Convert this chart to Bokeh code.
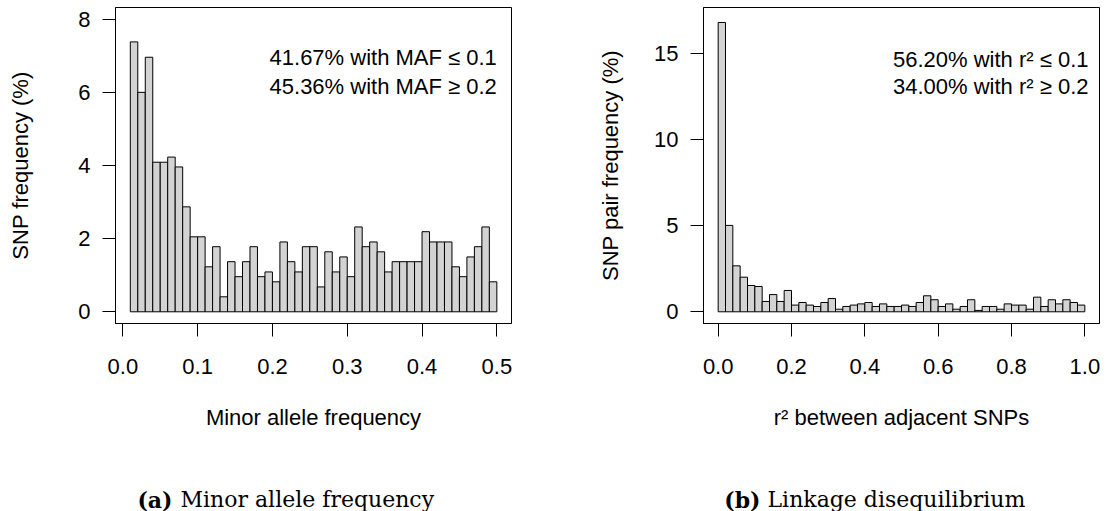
import numpy as np
from bokeh.plotting import figure
from bokeh.layouts import row, column
from bokeh.models import Range1d, FixedTicker, PrintfTickFormatter, Label, ColumnDataSource
from bokeh.embed import file_html
from bokeh.resources import INLINE

# ---- data ----
maf_bin_width = 0.01
maf_bin_start = np.round(np.arange(1, 50) * maf_bin_width, 2)   # 0.01 ... 0.49
maf_pct = [7.38, 6.00, 6.96, 4.09, 4.09, 4.23, 3.96, 2.87, 2.05, 2.05,
           1.23, 1.78, 0.41, 1.37, 0.96, 1.37, 1.78, 0.96, 1.09, 0.82,
           1.91, 1.37, 1.09, 1.78, 1.78, 0.68, 1.64, 1.09, 1.50, 0.96,
           2.32, 1.78, 1.91, 1.64, 1.09, 1.37, 1.37, 1.37, 1.37, 2.19,
           1.91, 1.91, 1.91, 1.23, 0.96, 1.50, 1.78, 2.32, 0.82]

ld_bin_width = 0.02
ld_bin_start = np.round(np.arange(0, 50) * ld_bin_width, 2)      # 0.00 ... 0.98
ld_pct = [16.81, 5.02, 2.67, 2.01, 1.53, 1.47, 0.60, 1.00, 0.60, 1.24,
          0.39, 0.54, 0.39, 0.31, 0.54, 0.77, 0.15, 0.31, 0.39, 0.46,
          0.54, 0.31, 0.46, 0.31, 0.31, 0.39, 0.31, 0.54, 0.93, 0.70,
          0.31, 0.46, 0.15, 0.31, 0.70, 0.08, 0.31, 0.31, 0.15, 0.46,
          0.39, 0.39, 0.15, 0.85, 0.31, 0.70, 0.46, 0.70, 0.54, 0.39]

maf_xticks = [0.0, 0.1, 0.2, 0.3, 0.4, 0.5]
maf_yticks = [0, 2, 4, 6, 8]
ld_xticks = [0.0, 0.2, 0.4, 0.6, 0.8, 1.0]
ld_yticks = [0, 5, 10, 15]

maf_notes = ["41.67% with MAF \u2264 0.1", "45.36% with MAF \u2265 0.2"]
ld_notes = ["56.20% with r\u00b2 \u2264 0.1", "34.00% with r\u00b2 \u2265 0.2"]
captions_tag = ["(a)", "(b)"]
captions_text = ["Minor allele frequency", "Linkage disequilibrium"]

SANS = "Liberation Sans"
SERIF = "DejaVu Serif"
FS = "22px"
CAP_FS = "22px"


def style(p, xticks, yticks):
    p.xgrid.visible = False
    p.ygrid.visible = False
    p.outline_line_color = "black"
    p.outline_line_width = 1
    p.outline_line_alpha = 1
    p.background_fill_color = "white"
    p.border_fill_color = "white"
    for ax in (p.xaxis[0], p.yaxis[0]):
        ax.major_tick_out = 13
        ax.major_tick_in = 0
        ax.minor_tick_line_color = None
        ax.major_tick_line_color = "black"
        ax.axis_line_color = "black"
        ax.major_label_text_font = SANS
        ax.major_label_text_font_size = FS
        ax.major_label_text_color = "black"
        ax.axis_label_text_font = SANS
        ax.axis_label_text_font_size = FS
        ax.axis_label_text_font_style = "normal"
        ax.axis_label_text_color = "black"
    p.xaxis[0].ticker = FixedTicker(ticks=xticks)
    p.yaxis[0].ticker = FixedTicker(ticks=yticks)
    p.xaxis[0].formatter = PrintfTickFormatter(format="%.1f")
    p.yaxis[0].formatter = PrintfTickFormatter(format="%d")
    p.yaxis[0].major_label_orientation = "horizontal"
    p.xaxis[0].major_label_standoff = 22
    p.yaxis[0].major_label_standoff = 12
    p.xaxis[0].axis_label_standoff = 28


# ---- left panel ----
p1 = figure(width=590, height=441, output_backend="svg", toolbar_location=None,
            x_range=Range1d(-0.0098, 0.5196), y_range=Range1d(-0.32, 8.32),
            min_border_left=115, min_border_right=79, min_border_top=7, min_border_bottom=118,
            x_axis_label="Minor allele frequency", y_axis_label="SNP frequency (%)")
src1 = ColumnDataSource(dict(left=maf_bin_start, right=maf_bin_start + maf_bin_width, top=maf_pct))
p1.quad(left="left", right="right", bottom=0, top="top", source=src1,
        fill_color="#d3d3d3", line_color="black", line_width=1)
style(p1, maf_xticks, maf_yticks)
p1.yaxis[0].axis_label_standoff = 42
for i, t in enumerate(maf_notes):
    p1.add_layout(Label(x=0.5, y=[6.94, 6.17][i], text=t, text_align="right", text_baseline="middle",
                        text_font=SANS, text_font_size=FS, text_color="black"))

# ---- right panel ----
p2 = figure(width=517, height=441, output_backend="svg", toolbar_location=None,
            x_range=Range1d(-0.04, 1.04), y_range=Range1d(-0.68, 17.68),
            min_border_left=113, min_border_right=8, min_border_top=7, min_border_bottom=118,
            x_axis_label="r\u00b2 between adjacent SNPs", y_axis_label="SNP pair frequency (%)")
src2 = ColumnDataSource(dict(left=ld_bin_start, right=ld_bin_start + ld_bin_width, top=ld_pct))
p2.quad(left="left", right="right", bottom=0, top="top", source=src2,
        fill_color="#d3d3d3", line_color="black", line_width=1)
style(p2, ld_xticks, ld_yticks)
p2.yaxis[0].axis_label_standoff = 28
for i, t in enumerate(ld_notes):
    p2.add_layout(Label(x=1.01, y=[14.67, 13.1][i], text=t, text_align="right", text_baseline="middle",
                        text_font=SANS, text_font_size=FS, text_color="black"))

# ---- caption strip ----
pc = figure(width=1107, height=70, output_backend="svg", toolbar_location=None,
            x_range=Range1d(0, 1107), y_range=Range1d(0, 70),
            min_border=0, x_axis_location=None, y_axis_location=None)
pc.xgrid.visible = False
pc.ygrid.visible = False
pc.outline_line_color = None
tag_right = [172, 760]
text_left = [180, 767]
for i in range(2):
    pc.add_layout(Label(x=tag_right[i], y=12, text=captions_tag[i], text_align="right",
                        text_baseline="alphabetic", text_font=SERIF, text_font_style="bold",
                        text_font_size=CAP_FS, text_color="black"))
    pc.add_layout(Label(x=text_left[i], y=12, text=captions_text[i], text_align="left",
                        text_baseline="alphabetic", text_font=SERIF,
                        text_font_size=CAP_FS, text_color="black"))

layout = column(row(p1, p2, spacing=0), pc, spacing=0)
open("out.html", "w").write(file_html(layout, INLINE))
